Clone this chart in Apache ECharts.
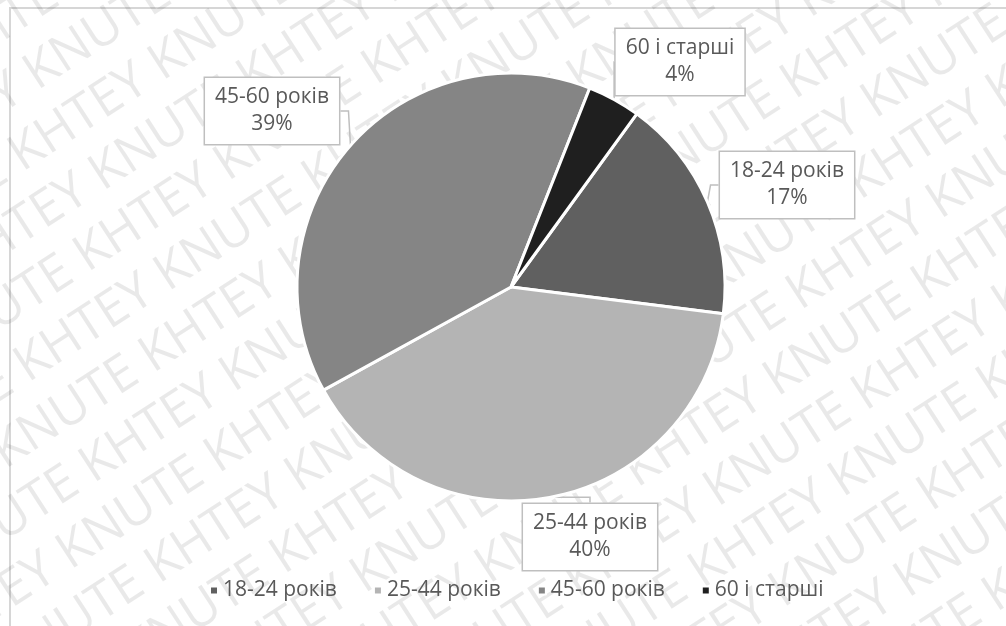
<!DOCTYPE html>
<html>
<head>
<meta charset="utf-8">
<script src="https://cdn.jsdelivr.net/npm/echarts@6/dist/echarts.min.js"></script>
<style>
html,body{margin:0;padding:0;background:#fff;overflow:hidden;}
#chart{width:1006px;height:626px;}
</style>
</head>
<body>
<div id="chart"></div>
<script>
// ---- data ----
const categories = ['18-24 років', '25-44 років', '45-60 років', '60 і старші'];
const shares = [17, 40, 39, 4];
const sliceColors = ['#606060', '#b4b4b4', '#858585', '#1f1f1f'];

// ---- layout (label box centres, px) ----
const labelCenters = [[787, 185], [590, 537], [272, 111], [680, 62]];

const chart = echarts.init(document.getElementById('chart'), null, {renderer: 'canvas'});

const wmChildren = [];
const wmWord = 'KNUTE KHTEY ';
for (let i = -14; i <= 14; i++) {
  wmChildren.push({
    type: 'text',
    x: -1300 + ((i % 2 + 2) % 2) * 110,
    y: i * 60,
    style: {
      text: wmWord.repeat(12),
      font: '51px "Open Sans"',
      fill: 'rgba(0,0,0,0.085)'
    }
  });
}

const option = {
  backgroundColor: '#ffffff',
  color: sliceColors,
  legend: {
    data: categories,
    bottom: 20,
    left: 204,
    icon: 'rect',
    itemWidth: 8,
    itemHeight: 8,
    itemGap: 36,
    textStyle: {fontFamily: 'Open Sans', fontSize: 21, color: '#595959'}
  },
  graphic: [
    {
      type: 'rect', silent: true, z: -1,
      shape: {x: 10, y: 8, width: 1200, height: 800},
      style: {fill: 'none', stroke: '#d6d6d6', lineWidth: 2}
    },
    {
      type: 'group', silent: true, z: 100,
      x: 503, y: 313, rotation: 33 * Math.PI / 180,
      children: wmChildren
    }
  ],
  series: [{
    type: 'pie',
    center: [511, 287],
    radius: 214,
    startAngle: 54,
    clockwise: true,
    avoidLabelOverlap: false,
    itemStyle: {borderColor: '#ffffff', borderWidth: 3},
    label: {
      show: true,
      position: 'outside',
      formatter: p => p.name + '\n' + Math.round(p.percent) + '%',
      fontFamily: 'Open Sans',
      fontSize: 21,
      lineHeight: 27,
      color: '#595959',
      align: 'center',
      backgroundColor: '#ffffff',
      borderColor: '#bfbfbf',
      borderWidth: 1.5,
      padding: [6, 10, 6, 10]
    },
    labelLine: {
      show: true,
      length: 10,
      length2: 8,
      lineStyle: {color: '#bfbfbf', width: 1.5}
    },
    labelLayout: function (params) {
      const c = labelCenters[params.dataIndex];
      return {x: c[0], y: c[1], align: 'center', verticalAlign: 'middle'};
    },
    emphasis: {disabled: true},
    data: categories.map((n, i) => ({name: n, value: shares[i]}))
  }]
};
chart.setOption(option);
</script>
</body>
</html>
